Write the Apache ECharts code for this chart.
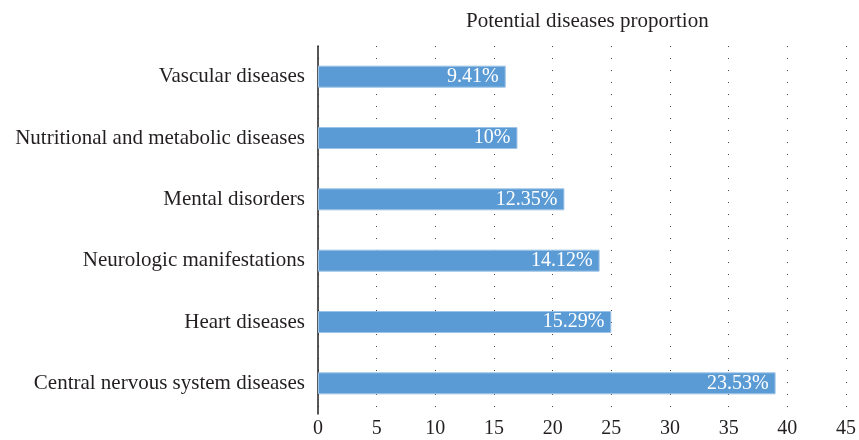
<!DOCTYPE html>
<html><head><meta charset="utf-8">
<script src="https://cdn.jsdelivr.net/npm/echarts@6/dist/echarts.min.js"></script>
<style>html,body{margin:0;padding:0;background:#fff}#c{width:859px;height:440px}</style>
</head><body><div id="c"></div>
<script>
const categories = ["Vascular diseases","Nutritional and metabolic diseases","Mental disorders","Neurologic manifestations","Heart diseases","Central nervous system diseases"];
const values = [16, 17, 21, 24, 25, 39];
const labels = ["9.41%","10%","12.35%","14.12%","15.29%","23.53%"];
const xTicks = [0,5,10,15,20,25,30,35,40,45];
const titleText = "Potential diseases proportion";

const font = "'Liberation Serif', 'DejaVu Serif', serif";
const chart = echarts.init(document.getElementById('c'), null, {renderer:'canvas'});
chart.setOption({
  animation:false,
  backgroundColor:'#fff',
  title:{text:titleText,left:461,top:6,textStyle:{fontFamily:font,fontSize:21,fontWeight:'normal',color:'#231f20'}},
  grid:{left:318,right:10,top:46,bottom:26,containLabel:false},
  xAxis:{type:'value',min:xTicks[0],max:xTicks[xTicks.length-1],interval:5,
    axisLine:{show:false},axisTick:{show:false},
    axisLabel:{fontFamily:font,fontSize:20,color:'#231f20',margin:5},
    splitLine:{show:true,lineStyle:{type:[1,11],color:'#444',width:1}}},
  yAxis:{type:'category',data:categories,inverse:true,
    axisLine:{show:true,lineStyle:{color:'#231f20',width:1.5}},axisTick:{show:false},
    axisLabel:{fontFamily:font,fontSize:21,color:'#231f20',margin:13}},
  series:[{type:'bar',data:values,barWidth:22,
    itemStyle:{color:'#5b9bd5',borderColor:'#9dc3e6',borderWidth:1},
    label:{show:true,position:'insideRight',distance:7,fontFamily:font,fontSize:20,color:'#fff',
      formatter:p=>labels[p.dataIndex]}}]
});
</script></body></html>
